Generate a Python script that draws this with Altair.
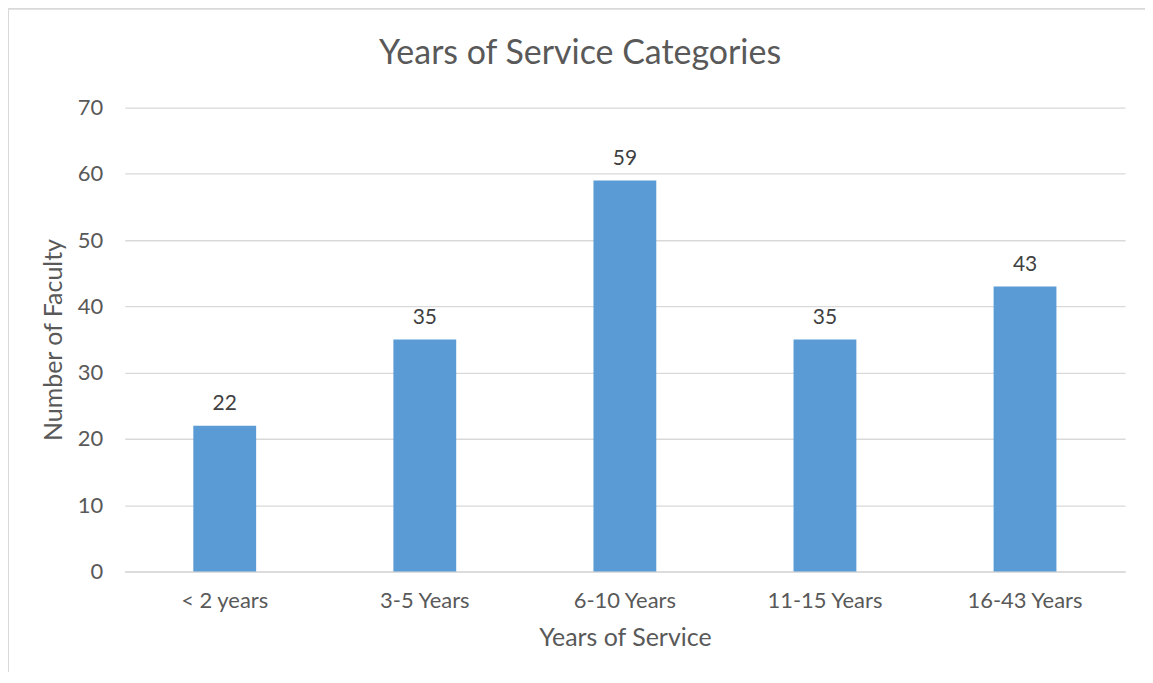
import altair as alt
import pandas as pd

categories = ["< 2 years", "3-5 Years", "6-10 Years", "11-15 Years", "16-43 Years"]
counts = [22, 35, 59, 35, 43]

df = pd.DataFrame({"cat": categories, "n": counts})

FONT = "Lato"
TXT = "#595959"
GRID = "#D9D9D9"

x_enc = alt.X(
    "cat:N", sort=categories,
    scale=alt.Scale(paddingInner=0.686, paddingOuter=0.343),
    axis=alt.Axis(title="Years of Service", labelAngle=0, ticks=False, domain=True,
                  domainColor=GRID, domainWidth=1.5, labelPadding=19, titlePadding=14,
                  labelFontSize=22, titleFontSize=25, labelColor=TXT, titleColor=TXT,
                  labelFont=FONT, titleFont=FONT, titleFontWeight="normal"),
)
y_enc = alt.Y(
    "n:Q", scale=alt.Scale(domain=[0, 70]),
    axis=alt.Axis(title="Number of Faculty", values=[0, 10, 20, 30, 40, 50, 60, 70],
                  ticks=False, domain=False, grid=True, gridColor=GRID, gridWidth=1.3,
                  labelPadding=22, titlePadding=11, labelFontSize=22, titleFontSize=25,
                  labelColor=TXT, titleColor=TXT, labelFont=FONT, titleFont=FONT,
                  titleFontWeight="normal"),
)

bars = alt.Chart(df).mark_bar(color="#5B9BD5").encode(x=x_enc, y=y_enc)
labels = alt.Chart(df).mark_text(
    baseline="bottom", dy=-12, fontSize=21, font=FONT, color="#404040"
).encode(x=alt.X("cat:N", sort=categories), y="n:Q", text="n:Q")

border = alt.Chart(alt.Data(values=[{"a": 1}])).mark_rule(color=GRID, strokeWidth=2)
left_b = border.encode(x=alt.value(-117), y=alt.value(-99), y2=alt.value(600))
top_b = border.encode(x=alt.value(-117), x2=alt.value(1040), y=alt.value(-99))

chart = alt.layer(left_b, top_b, bars, labels).properties(
    width=1003, height=465,
    title=alt.TitleParams("Years of Service Categories", fontSize=34, font=FONT,
                          fontWeight="normal", color=TXT, anchor="middle", offset=0,
                          baseline="alphabetic", dy=90, dx=-45, frame="group"),
    autosize=alt.AutoSizeParams(type="none"),
    padding={"left": 117, "top": 99, "right": 20, "bottom": 100},
).configure_view(stroke=None)

chart.save("out.html", embed_options={"renderer": "svg", "actions": False})
